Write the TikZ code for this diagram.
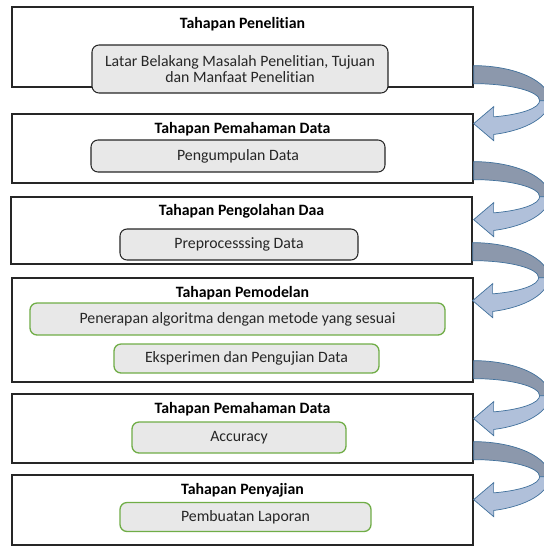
\documentclass[tikz,border=0pt]{standalone}
\usepackage{fontspec}
\setmainfont{Carlito}[Ligatures=NoCommon]
\usepackage{xcolor}
\usepackage{tikz}

\definecolor{backblue}{HTML}{8C98AC}
\definecolor{frontblue}{HTML}{B0C0DA}
\definecolor{edgeblue}{HTML}{41719C}
\definecolor{stepgreen}{HTML}{70AD47}
\definecolor{boxgray}{HTML}{E8E8E8}

\begin{document}
\begin{tikzpicture}[x=0.03cm, y=-0.03cm,
    stage/.style={draw=black!85, line width=1.1pt, inner sep=0pt},
    stagetitle/.style={font=\bfseries\fontsize{13.5}{14}\selectfont},
    task/.style={draw=black!85, line width=0.9pt, fill=boxgray, rounded corners=6pt,
        inner sep=0pt, align=center, text=black!85, font=\fontsize{13.5}{14}\selectfont},
    taskgreen/.style={task, draw=stepgreen, line width=1.1pt}]
    \useasboundingbox (0,0) rectangle (544,547);

    % Stage boxes
    \node[stage, minimum width=13.83cm, minimum height=2.4cm] (b1) at (242.5,47) {};
    \node[stage, minimum width=13.83cm, minimum height=2.07cm] (b2) at (242.5,148.5) {};
    \node[stage, minimum width=13.83cm, minimum height=2.01cm] (b3) at (241.5,230.5) {};
    \node[stage, minimum width=13.83cm, minimum height=3.12cm] (b4) at (242.5,330) {};
    \node[stage, minimum width=13.83cm, minimum height=2.07cm] (b5) at (242.5,428.5) {};
    \node[stage, minimum width=13.83cm, minimum height=2.1cm] (b6) at (242.5,510) {};

    % Stage titles
    \node[stagetitle] (t1) at (242.5,24) {Tahapan Penelitian};
    \node[stagetitle] (t2) at (242.5,129.5) {Tahapan Pemahaman Data};
    \node[stagetitle] (t3) at (241.5,211) {Tahapan Pengolahan Daa};
    \node[stagetitle] (t4) at (242.5,293.5) {Tahapan Pemodelan};
    \node[stagetitle] (t5) at (242.5,409.5) {Tahapan Pemahaman Data};
    \node[stagetitle] (t6) at (242.5,490) {Tahapan Penyajian};

    % Tasks
    \node[task, minimum width=8.88cm, minimum height=1.44cm] (k1) at (240,69)
        {Latar Belakang Masalah Penelitian, Tujuan\\dan Manfaat Penelitian};
    \node[task, minimum width=8.82cm, minimum height=0.96cm] (k2) at (238,156) {Pengumpulan Data};
    \node[task, minimum width=7.14cm, minimum height=0.93cm] (k3) at (239,244.5) {Preprocesssing Data};
    \node[taskgreen, minimum width=12.45cm, minimum height=0.96cm] (k4) at (237.5,319)
        {Penerapan algoritma dengan metode yang sesuai};
    \node[taskgreen, minimum width=7.95cm, minimum height=0.87cm] (k5) at (246.5,358.5)
        {Eksperimen dan Pengujian Data};
    \node[taskgreen, minimum width=6.42cm, minimum height=0.93cm] (k6) at (239,437.5) {Accuracy};
    \node[taskgreen, minimum width=7.53cm, minimum height=0.87cm] (k7) at (245.5,517) {Pembuatan Laporan};

    % Curved arrows between stages
    \foreach \b in {b1,b2,b3,b4,b5} {
        \begin{scope}[shift={(\b.south east)}]
            \filldraw[fill=backblue, draw=edgeblue, line width=0.6pt]
                (0,-22) arc[start angle=-90, end angle=0, x radius=76, y radius=35]
                -- (66,13) arc[start angle=0, end angle=-90, x radius=66, y radius=17] -- cycle;
            \filldraw[fill=frontblue, draw=edgeblue, line width=0.6pt]
                (66,13) arc[start angle=0, end angle=72.4, x radius=66, y radius=17]
                -- (20,19) -- (0,36) -- (20,53) -- (20,46.8)
                arc[start angle=74.7, end angle=0, x radius=76, y radius=35] -- cycle;
        \end{scope}
    }
\end{tikzpicture}
\end{document}
